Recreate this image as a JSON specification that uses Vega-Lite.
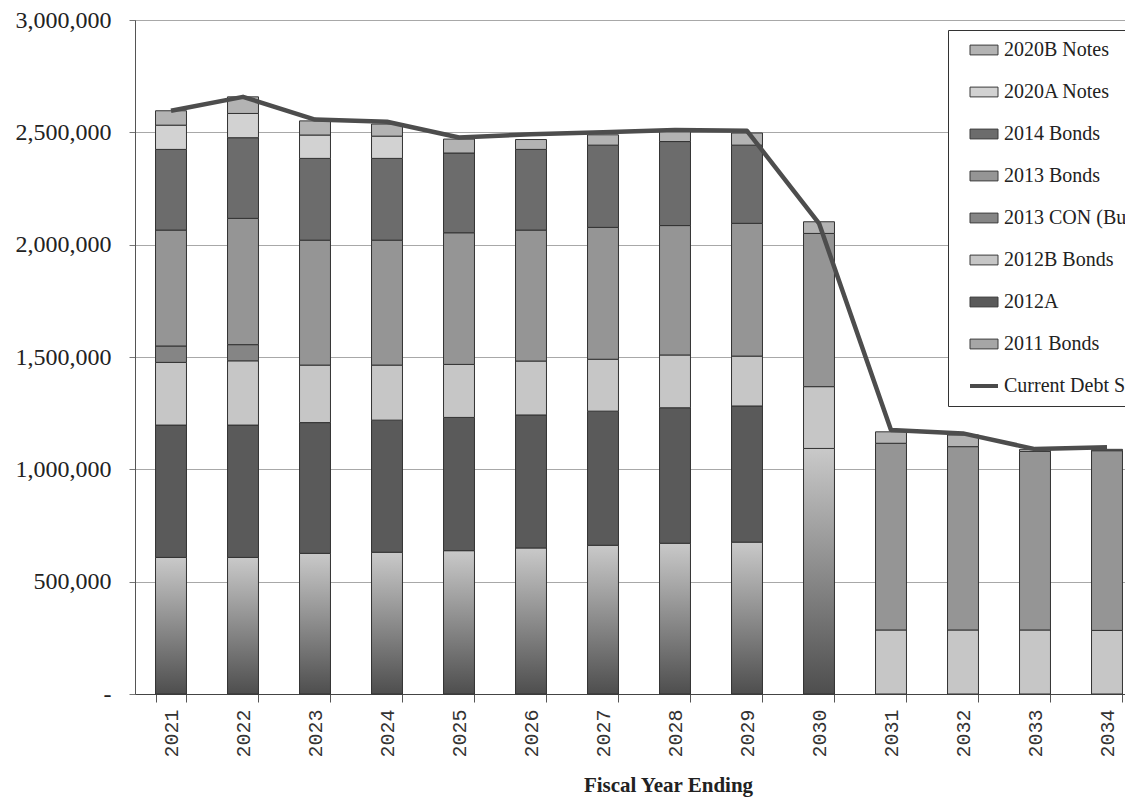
{
  "$schema": "https://vega.github.io/schema/vega-lite/v6.json",
  "autosize": {"type": "none"},
  "padding": {"left": 135, "top": 20, "right": 0, "bottom": 107},
  "width": 990,
  "height": 674,
  "background": "white",
  "title": {"text": "Total Combined Outstanding Debt Service", "font": "Liberation Serif", "fontSize": 27, "fontWeight": "bold", "color": "#222222", "anchor": "middle", "frame": "group", "dx": 55, "offset": 10, "baseline": "alphabetic"},
  "datasets": {
    "issues": [
      {"series": "2011 Bonds", "seq": 1},
      {"series": "2012A", "seq": 2},
      {"series": "2012B Bonds", "seq": 3},
      {"series": "2013 CON (Bus)", "seq": 4},
      {"series": "2013 Bonds", "seq": 5},
      {"series": "2014 Bonds", "seq": 6},
      {"series": "2020A Notes", "seq": 7},
      {"series": "2020B Notes", "seq": 8}
    ],
    "bars": [
      {"year": "2021", "series": "2011 Bonds", "amount": 608000},
      {"year": "2021", "series": "2012A", "amount": 589000},
      {"year": "2021", "series": "2012B Bonds", "amount": 279000},
      {"year": "2021", "series": "2013 CON (Bus)", "amount": 73000},
      {"year": "2021", "series": "2013 Bonds", "amount": 516000},
      {"year": "2021", "series": "2014 Bonds", "amount": 359000},
      {"year": "2021", "series": "2020A Notes", "amount": 108000},
      {"year": "2021", "series": "2020B Notes", "amount": 64000},
      {"year": "2022", "series": "2011 Bonds", "amount": 608000},
      {"year": "2022", "series": "2012A", "amount": 589000},
      {"year": "2022", "series": "2012B Bonds", "amount": 286000},
      {"year": "2022", "series": "2013 CON (Bus)", "amount": 72000},
      {"year": "2022", "series": "2013 Bonds", "amount": 562000},
      {"year": "2022", "series": "2014 Bonds", "amount": 359000},
      {"year": "2022", "series": "2020A Notes", "amount": 108000},
      {"year": "2022", "series": "2020B Notes", "amount": 74000},
      {"year": "2023", "series": "2011 Bonds", "amount": 626000},
      {"year": "2023", "series": "2012A", "amount": 582000},
      {"year": "2023", "series": "2012B Bonds", "amount": 256000},
      {"year": "2023", "series": "2013 Bonds", "amount": 556000},
      {"year": "2023", "series": "2014 Bonds", "amount": 364000},
      {"year": "2023", "series": "2020A Notes", "amount": 104000},
      {"year": "2023", "series": "2020B Notes", "amount": 63000},
      {"year": "2024", "series": "2011 Bonds", "amount": 631000},
      {"year": "2024", "series": "2012A", "amount": 588000},
      {"year": "2024", "series": "2012B Bonds", "amount": 245000},
      {"year": "2024", "series": "2013 Bonds", "amount": 556000},
      {"year": "2024", "series": "2014 Bonds", "amount": 364000},
      {"year": "2024", "series": "2020A Notes", "amount": 99000},
      {"year": "2024", "series": "2020B Notes", "amount": 54000},
      {"year": "2025", "series": "2011 Bonds", "amount": 638000},
      {"year": "2025", "series": "2012A", "amount": 593000},
      {"year": "2025", "series": "2012B Bonds", "amount": 236000},
      {"year": "2025", "series": "2013 Bonds", "amount": 586000},
      {"year": "2025", "series": "2014 Bonds", "amount": 355000},
      {"year": "2025", "series": "2020B Notes", "amount": 62000},
      {"year": "2026", "series": "2011 Bonds", "amount": 650000},
      {"year": "2026", "series": "2012A", "amount": 592000},
      {"year": "2026", "series": "2012B Bonds", "amount": 240000},
      {"year": "2026", "series": "2013 Bonds", "amount": 583000},
      {"year": "2026", "series": "2014 Bonds", "amount": 359000},
      {"year": "2026", "series": "2020B Notes", "amount": 44000},
      {"year": "2027", "series": "2011 Bonds", "amount": 662000},
      {"year": "2027", "series": "2012A", "amount": 597000},
      {"year": "2027", "series": "2012B Bonds", "amount": 231000},
      {"year": "2027", "series": "2013 Bonds", "amount": 587000},
      {"year": "2027", "series": "2014 Bonds", "amount": 366000},
      {"year": "2027", "series": "2020B Notes", "amount": 46000},
      {"year": "2028", "series": "2011 Bonds", "amount": 671000},
      {"year": "2028", "series": "2012A", "amount": 603000},
      {"year": "2028", "series": "2012B Bonds", "amount": 235000},
      {"year": "2028", "series": "2013 Bonds", "amount": 576000},
      {"year": "2028", "series": "2014 Bonds", "amount": 374000},
      {"year": "2028", "series": "2020B Notes", "amount": 46000},
      {"year": "2029", "series": "2011 Bonds", "amount": 676000},
      {"year": "2029", "series": "2012A", "amount": 606000},
      {"year": "2029", "series": "2012B Bonds", "amount": 222000},
      {"year": "2029", "series": "2013 Bonds", "amount": 591000},
      {"year": "2029", "series": "2014 Bonds", "amount": 348000},
      {"year": "2029", "series": "2020B Notes", "amount": 54000},
      {"year": "2030", "series": "2011 Bonds", "amount": 1093000},
      {"year": "2030", "series": "2012B Bonds", "amount": 275000},
      {"year": "2030", "series": "2013 Bonds", "amount": 682000},
      {"year": "2030", "series": "2020B Notes", "amount": 52000},
      {"year": "2031", "series": "2012B Bonds", "amount": 285000},
      {"year": "2031", "series": "2013 Bonds", "amount": 831000},
      {"year": "2031", "series": "2020B Notes", "amount": 51000},
      {"year": "2032", "series": "2012B Bonds", "amount": 285000},
      {"year": "2032", "series": "2013 Bonds", "amount": 816000},
      {"year": "2032", "series": "2020B Notes", "amount": 52000},
      {"year": "2033", "series": "2012B Bonds", "amount": 285000},
      {"year": "2033", "series": "2013 Bonds", "amount": 795000},
      {"year": "2033", "series": "2020B Notes", "amount": 9000},
      {"year": "2034", "series": "2012B Bonds", "amount": 283000},
      {"year": "2034", "series": "2013 Bonds", "amount": 800000},
      {"year": "2034", "series": "2020B Notes", "amount": 6000}
    ],
    "line": [
      {"year": "2021", "amount": 2596000},
      {"year": "2022", "amount": 2658000},
      {"year": "2023", "amount": 2557000},
      {"year": "2024", "amount": 2547000},
      {"year": "2025", "amount": 2477000},
      {"year": "2026", "amount": 2491000},
      {"year": "2027", "amount": 2500000},
      {"year": "2028", "amount": 2510000},
      {"year": "2029", "amount": 2507000},
      {"year": "2030", "amount": 2095000},
      {"year": "2031", "amount": 1175000},
      {"year": "2032", "amount": 1160000},
      {"year": "2033", "amount": 1090000},
      {"year": "2034", "amount": 1098000}
    ]
  },
  "encoding": {
    "x": {
      "field": "year", "type": "ordinal",
      "scale": {"range": [0, 1008], "paddingInner": 0.57, "paddingOuter": 0.285},
      "axis": {
        "title": "Fiscal Year Ending", "titleFont": "Liberation Serif", "titleFontSize": 21, "titleFontWeight": "bold", "titleColor": "#222222",
        "titleX": 533, "titleY": 97, "titleBaseline": "alphabetic", "titleAlign": "center",
        "labelAngle": -90, "labelFont": "Liberation Mono", "labelFontSize": 20, "labelColor": "#333333", "labelPadding": 7,
        "tickBand": "extent", "tickSize": 8, "tickColor": "#555555", "domainColor": "#444444", "grid": false
      }
    }
  },
  "layer": [
    {
      "data": {"name": "bars"},
      "transform": [
        {"lookup": "series", "from": {"data": {"name": "issues"}, "key": "series", "fields": ["seq"]}}
      ],
      "mark": {"type": "bar", "stroke": "#333333", "strokeWidth": 1},
      "encoding": {
        "y": {
          "field": "amount", "type": "quantitative", "stack": "zero",
          "scale": {"domain": [0, 3000000], "nice": false},
          "axis": {"title": null, "tickCount": 6, "labelExpr": "datum.value === 0 ? '-' : format(datum.value, ',')", "labelFont": "Liberation Serif", "labelFontSize": 24, "labelColor": "#222222", "labelPadding": 18, "tickSize": 6, "tickColor": "#777777", "grid": true, "gridColor": "#a8a8a8", "domainColor": "#555555"}
        },
        "order": {"field": "seq", "type": "quantitative", "sort": "ascending"},
        "fill": {
          "condition": {"test": "datum.series === '2011 Bonds'", "value": {"gradient": "linear", "x1": 0, "y1": 1, "x2": 0, "y2": 0, "stops": [{"offset": 0, "color": "#4e4e4e"}, {"offset": 1, "color": "#c9c9c9"}]}},
          "field": "series", "type": "nominal",
          "scale": {
            "domain": ["2020B Notes", "2020A Notes", "2014 Bonds", "2013 Bonds", "2013 CON (Bus)", "2012B Bonds", "2012A", "2011 Bonds", "Current Debt Service"],
            "range": ["#b3b3b3", "#d2d2d2", "#6c6c6c", "#959595", "#858585", "#c6c6c6", "#5a5a5a", "#a6a6a6", "#4a4a4a"]
          },
          "legend": {
            "orient": "none", "legendX": 813, "legendY": 10, "title": null, "direction": "vertical",
            "strokeColor": "#333333", "fillColor": "white", "padding": 10,
            "symbolSize": 784, "symbolType": "M-1,-0.35H1V0.35H-1Z", "symbolStrokeColor": "#3a3a3a", "symbolStrokeWidth": 1,
            "rowPadding": 22, "symbolOffset": 16, "labelOffset": 10,
            "labelFont": "Liberation Serif", "labelFontSize": 20, "labelColor": "#222222", "labelLimit": 400,
            "encode": {
              "symbols": {
                "update": {
                  "shape": {"signal": "datum.value === 'Current Debt Service' ? 'stroke' : 'M-1,-0.35H1V0.35H-1Z'"},
                  "stroke": {"signal": "datum.value === 'Current Debt Service' ? '#4a4a4a' : '#3a3a3a'"},
                  "strokeWidth": {"signal": "datum.value === 'Current Debt Service' ? 4 : 1"}
                }
              }
            }
          }
        }
      }
    },
    {
      "data": {"name": "line"},
      "mark": {"type": "line", "stroke": "#4d4d4d", "strokeWidth": 4.5, "strokeJoin": "round"},
      "encoding": {
        "y": {"field": "amount", "type": "quantitative", "axis": {"title": null, "tickCount": 6, "labelExpr": "datum.value === 0 ? '-' : format(datum.value, ',')", "labelFont": "Liberation Serif", "labelFontSize": 24, "labelColor": "#222222", "labelPadding": 18, "tickSize": 6, "tickColor": "#777777", "grid": true, "gridColor": "#a8a8a8", "domainColor": "#555555"}}
      }
    }
  ],
  "config": {
    "view": {"stroke": "#666666", "strokeWidth": 1}
  }
}
